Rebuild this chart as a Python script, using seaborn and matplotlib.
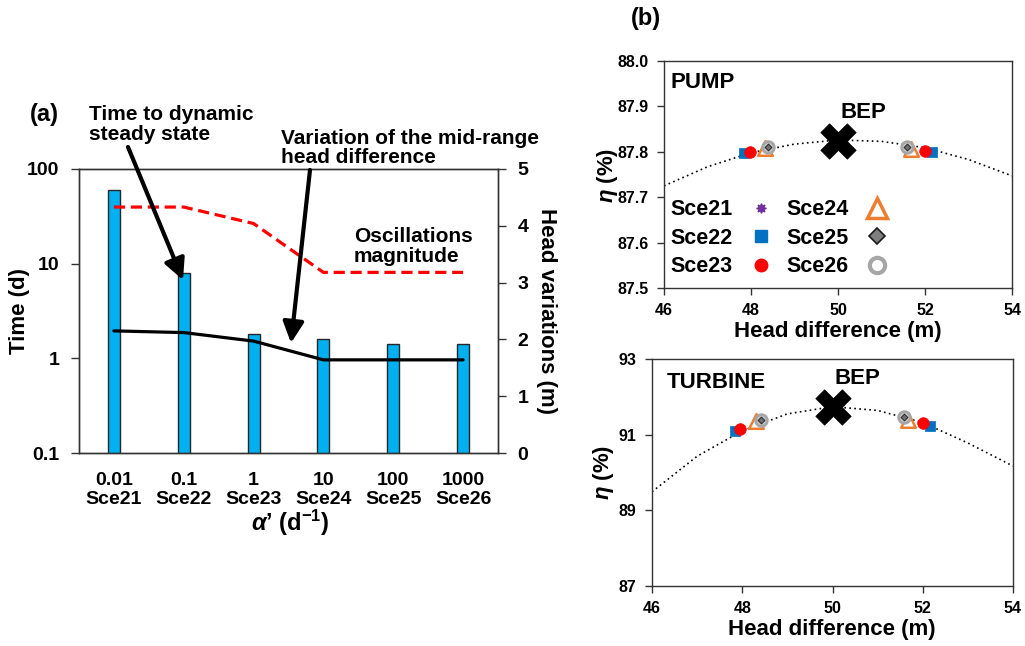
import numpy as np
import pandas as pd
import matplotlib
matplotlib.use("Agg")
import matplotlib.pyplot as plt
from matplotlib.lines import Line2D
from matplotlib.ticker import FixedLocator, FixedFormatter, NullLocator, FormatStrFormatter
import seaborn as sns

# ---------------- panel (a): response to alpha' ----------------
alpha_labels = ["0.01", "0.1", "1", "10", "100", "1000"]
scenarios = ["Sce21", "Sce22", "Sce23", "Sce24", "Sce25", "Sce26"]
time_to_steady = [60, 8.0, 1.8, 1.6, 1.4, 1.4]              # d
oscillation_mag = [4.33, 4.33, 4.04, 3.18, 3.18, 3.18]      # m
midrange_var = [2.15, 2.12, 1.97, 1.64, 1.64, 1.64]         # m

# ---------------- panel (b): efficiency curves ----------------
curve_head = [46, 47, 48, 49, 50, 51, 52, 53, 54]
pump_curve_eta = [87.725, 87.767, 87.798, 87.817, 87.826, 87.823, 87.809, 87.783, 87.747]
turb_curve_eta = [89.49, 90.43, 91.10, 91.55, 91.74, 91.64, 91.32, 90.78, 90.17]

# operating extremes per scenario (low head side / high head side)
pump_head_low = [47.83, 47.83, 47.97, 48.32, 48.40, 48.40]
pump_eta_low = [87.797, 87.797, 87.800, 87.808, 87.810, 87.810]
pump_head_high = [52.16, 52.16, 52.01, 51.67, 51.58, 51.58]
pump_eta_high = [87.799, 87.799, 87.802, 87.807, 87.811, 87.811]
pump_bep = (50.0, 87.823)

turb_head_low = [47.83, 47.83, 47.96, 48.31, 48.41, 48.41]
turb_eta_low = [91.10, 91.10, 91.16, 91.36, 91.38, 91.38]
turb_head_high = [52.15, 52.15, 52.00, 51.67, 51.58, 51.58]
turb_eta_high = [91.23, 91.23, 91.30, 91.40, 91.46, 91.46]
turb_bep = (50.0, 91.74)

W, H = 1025, 646
sns.set_theme(style="white")
plt.rcParams["font.family"] = ["Liberation Sans", "DejaVu Sans"]
plt.rcParams["font.weight"] = "bold"
plt.rcParams["axes.labelweight"] = "bold"
plt.rcParams["text.color"] = "black"
plt.rcParams["axes.labelcolor"] = "black"
plt.rcParams["xtick.color"] = "black"
plt.rcParams["ytick.color"] = "black"
plt.rcParams["mathtext.fontset"] = "custom"
plt.rcParams["mathtext.rm"] = "Liberation Sans:bold"
plt.rcParams["mathtext.it"] = "Liberation Sans:italic:bold"
plt.rcParams["mathtext.bf"] = "Liberation Sans:bold"

AX_COL = "#333333"

fig = plt.figure(figsize=(W / 100, H / 100), dpi=100)


def box(x0, y0, x1, y1):
    """Axes rectangle from pixel corners (top-left origin)."""
    return [x0 / W, 1 - y1 / H, (x1 - x0) / W, (y1 - y0) / H]


def ftext(x, y, s, **kw):
    fig.text(x / W, 1 - y / H, s, **kw)


def note(x, y_first, lines, gap=20, **kw):
    """Multi-line annotation, one text object per line."""
    for k, line in enumerate(lines):
        ftext(x, y_first + k * gap, line, ha="left", va="center", **kw)


def style_spines(ax):
    for sp in ax.spines.values():
        sp.set_visible(True)
        sp.set_color(AX_COL)
        sp.set_linewidth(1.0)


# ================= panel (a) =================
ax = fig.add_axes(box(79, 169, 498, 453))
ax.set_yscale("log")
df_a = pd.DataFrame({
    "label": [f"{a}\n{s}" for a, s in zip(alpha_labels, scenarios)],
    "time": time_to_steady,
})
sns.barplot(data=df_a, x="label", y="time", ax=ax, width=0.17,
            color="#00B0F0", saturation=1, edgecolor="#262626", linewidth=1.0)
ax.set_ylim(0.1, 100)
ax.set_xlim(-0.5, 5.5)
ax.yaxis.set_major_locator(FixedLocator([0.1, 1, 10, 100]))
ax.yaxis.set_major_formatter(FixedFormatter(["0.1", "1", "10", "100"]))
ax.yaxis.set_minor_locator(NullLocator())
ax.xaxis.set_minor_locator(FixedLocator(np.arange(-0.5, 6.0, 1.0)))
ax.tick_params(axis="x", which="major", length=0, pad=14, labelsize=14)
ax.tick_params(axis="x", which="minor", length=6, width=1, color=AX_COL, direction="out")
ax.tick_params(axis="y", which="major", length=6, width=1, color=AX_COL,
               direction="out", labelsize=14, pad=8, left=True)
for lab in ax.get_xticklabels():
    lab.set_linespacing(1.1)
ax.set_xlabel("")
ax.set_ylabel("")
style_spines(ax)

ax2 = ax.twinx()
xpos = np.arange(len(scenarios))
sns.lineplot(x=xpos, y=oscillation_mag, ax=ax2, color="#FF0000", lw=2.3,
             linestyle=(0, (3.5, 1.8)))
sns.lineplot(x=xpos, y=midrange_var, ax=ax2, color="black", lw=2.3)
ax2.set_ylim(0, 5)
ax2.set_xlim(-0.5, 5.5)
ax2.yaxis.set_major_locator(FixedLocator([0, 1, 2, 3, 4, 5]))
ax2.tick_params(axis="y", length=6, width=1, color=AX_COL, direction="out",
                labelsize=14, pad=8, right=True)
ax2.set_ylabel("")
style_spines(ax2)

ftext(20, 311, "Time (d)", rotation=90, ha="center", va="center", fontsize=16)
ftext(546, 311, "Head variations (m)", rotation=270, ha="center", va="center", fontsize=16)
ftext(290, 523, r"$\alpha$’ (d$^{\mathregular{-1}}$)", ha="center", va="center", fontsize=17)

ftext(30, 115, "(a)", ha="left", va="center", fontsize=17)
note(89, 115, ["Time to dynamic", "steady state"], fontsize=15)
note(281, 138, ["Variation of the mid-range", "head difference"], fontsize=15)
note(354, 236, ["Oscillations", "magnitude"], fontsize=15)

arrow_kw = dict(arrowstyle="-|>,head_length=0.9,head_width=0.45", color="black",
                lw=3, shrinkA=0, shrinkB=0)
fig.add_artist(matplotlib.patches.FancyArrowPatch(
    (128 / W, 1 - 147 / H), (183 / W, 1 - 280 / H), transform=fig.transFigure,
    mutation_scale=14, **arrow_kw))
fig.add_artist(matplotlib.patches.FancyArrowPatch(
    (310 / W, 1 - 170 / H), (291 / W, 1 - 343 / H), transform=fig.transFigure,
    mutation_scale=14, **arrow_kw))

# ================= panel (b) =================
marker_style = {
    "Sce21": dict(marker=(8, 1, 0), s=30, color="#7030A0", edgecolor="#7030A0", linewidth=0.5),
    "Sce22": dict(marker="s", s=60, color="#0070C0", edgecolor="#0070C0", linewidth=0.5),
    "Sce23": dict(marker="o", s=70, color="#FF0000", edgecolor="#FF0000", linewidth=0.5),
    "Sce24": dict(marker="^", s=110, color="white", edgecolor="#ED7D31", linewidth=1.8),
    "Sce26": dict(marker="o", s=70, color="#C8C8C8", edgecolor="#A6A6A6", linewidth=2.0),
    "Sce25": dict(marker="D", s=12, color="#6F6F6F", edgecolor="#262626", linewidth=0.7),
}
draw_order = ["Sce21", "Sce22", "Sce24", "Sce26", "Sce25", "Sce23"]


def efficiency_panel(axb, eta_curve, hl, el, hh, eh, bep):
    sns.lineplot(x=curve_head, y=eta_curve, ax=axb, color="black", lw=1.2,
                 linestyle=(0, (1, 2)))
    for z, name in enumerate(draw_order):
        i = scenarios.index(name)
        sns.scatterplot(x=[hl[i], hh[i]], y=[el[i], eh[i]], ax=axb, zorder=3 + z,
                        legend=False, **marker_style[name])
    sns.scatterplot(x=[bep[0]], y=[bep[1]], ax=axb, marker="X", s=650,
                    color="black", edgecolor="black", linewidth=0.5, zorder=10, legend=False)
    axb.set_xlim(46, 54)
    axb.xaxis.set_major_locator(FixedLocator([46, 48, 50, 52, 54]))
    axb.tick_params(axis="both", length=5, width=1, color=AX_COL, direction="out",
                    labelsize=11.5, pad=6, left=True, bottom=True)
    axb.set_xlabel("")
    axb.set_ylabel("")
    style_spines(axb)


axp = fig.add_axes(box(664, 61, 1012, 288))
efficiency_panel(axp, pump_curve_eta, pump_head_low, pump_eta_low,
                 pump_head_high, pump_eta_high, pump_bep)
axp.set_ylim(87.5, 88.0)
axp.yaxis.set_major_locator(FixedLocator([87.5, 87.6, 87.7, 87.8, 87.9, 88.0]))
axp.yaxis.set_major_formatter(FormatStrFormatter("%.1f"))

axt = fig.add_axes(box(652, 359, 1013, 586))
efficiency_panel(axt, turb_curve_eta, turb_head_low, turb_eta_low,
                 turb_head_high, turb_eta_high, turb_bep)
axt.set_ylim(87, 93)
axt.yaxis.set_major_locator(FixedLocator([87, 89, 91, 93]))

# legend of the scenario markers
legend_marker = {
    "Sce21": dict(marker=(8, 1, 0), markersize=7, color="#7030A0", mec="#7030A0"),
    "Sce22": dict(marker="s", markersize=8, color="#0070C0", mec="#0070C0"),
    "Sce23": dict(marker="o", markersize=9, color="#FF0000", mec="#FF0000"),
    "Sce24": dict(marker="^", markersize=14, color="white", mec="#ED7D31", mew=2.5),
    "Sce25": dict(marker="D", markersize=8, color="#7F7F7F", mec="#1a1a1a", mew=1.2),
    "Sce26": dict(marker="o", markersize=11, color="white", mec="#A6A6A6", mew=3),
}
handles = [Line2D([], [], linestyle="none", **legend_marker[s]) for s in scenarios]
axp.legend(handles, scenarios, ncol=2, markerfirst=False, frameon=False,
           loc="lower left", bbox_to_anchor=(-0.018, -0.01), fontsize=15.5,
           handlelength=1.0, handletextpad=0.8, columnspacing=0.7,
           labelspacing=0.35, borderaxespad=0.2)

ftext(671, 83, "PUMP", ha="left", va="center", fontsize=16)
ftext(840, 113, "BEP", ha="left", va="center", fontsize=16)
ftext(667, 382, "TURBINE", ha="left", va="center", fontsize=16)
ftext(835, 379, "BEP", ha="left", va="center", fontsize=16)
ftext(646, 18, "(b)", ha="center", va="center", fontsize=17)

ftext(838, 331, "Head difference (m)", ha="center", va="center", fontsize=16)
ftext(832, 630, "Head difference (m)", ha="center", va="center", fontsize=16)
ftext(607, 175, r"$\eta$ (%)", rotation=90, ha="center", va="center", fontsize=16)
ftext(603, 472, r"$\eta$ (%)", rotation=90, ha="center", va="center", fontsize=16)

fig.savefig("out.png", dpi=100)
